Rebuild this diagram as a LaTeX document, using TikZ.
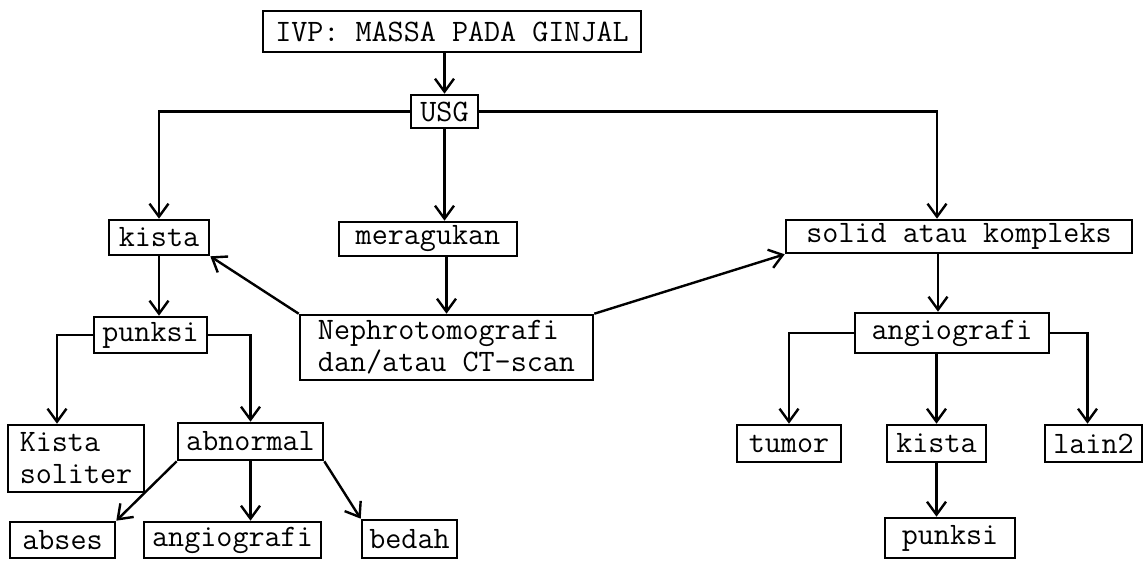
\documentclass[tikz,border=0pt]{standalone}
\usetikzlibrary{arrows.meta}
\begin{document}
\begin{tikzpicture}[x=1pt,y=-1pt,
  box/.style={draw, line width=2.6pt, inner sep=0pt, font=\ttfamily\fontsize{31.2}{32}\selectfont, anchor=center},
  arr/.style={line width=2.4pt, -{Straight Barb[length=13pt,width=19pt]}}]
\useasboundingbox[fill=white] (0,0) rectangle (1147,560);
% nodes
\node[box, minimum width=378pt, minimum height=41pt] (top) at (452,31.5) {IVP: MASSA PADA GINJAL};
\node[box, minimum width=67pt, minimum height=33pt] (usg) at (444.5,111.5) {USG};
\node[box, minimum width=100pt, minimum height=35pt] (kista1) at (159,237.5) {kista};
\node[box, minimum width=178pt, minimum height=34pt] (merag) at (428,239) {meragukan};
\node[box, minimum width=346pt, minimum height=33pt] (solid) at (959,236.5) {solid atau kompleks};
\node[box, minimum width=113pt, minimum height=36pt] (punksi1) at (150.5,335) {punksi};
\node[box, minimum width=293pt, minimum height=65pt, align=left] (nephro) at (446.5,347.5) {Nephrotomografi\\dan/atau CT-scan};
\node[box, minimum width=194pt, minimum height=40pt] (angio2) at (952,333) {angiografi};
\node[box, minimum width=136pt, minimum height=67pt, align=left] (soliter) at (76,458.5) {Kista\\soliter};
\node[box, minimum width=145pt, minimum height=37pt] (abnormal) at (250.5,441.5) {abnormal};
\node[box, minimum width=104pt, minimum height=37pt] (tumor) at (789,443.5) {tumor};
\node[box, minimum width=99pt, minimum height=37pt] (kista2) at (936.5,443.5) {kista};
\node[box, minimum width=97pt, minimum height=37pt] (lain2) at (1093.5,443.5) {lain2};
\node[box, minimum width=105pt, minimum height=36pt] (abses) at (62.5,540) {abses};
\node[box, minimum width=177pt, minimum height=36pt] (angio1) at (232.5,540) {angiografi};
\node[box, minimum width=95pt, minimum height=38pt] (bedah) at (409.5,539) {bedah};
\node[box, minimum width=130pt, minimum height=40pt] (punksi2) at (950,538) {punksi};
% helper coordinates
\coordinate (cs) at ([xshift=-22pt]solid.north);
\coordinate (ca) at ([xshift=-14pt]angio2.north);
\coordinate (cso) at ([xshift=-19pt]soliter.north);
\coordinate (cl) at ([xshift=-6pt]lain2.north);
% connectors
\draw[arr] (usg.north |- top.south) -- (usg.north);
\draw[arr] (usg.west) -| (kista1.north);
\draw[arr] (usg.east) -| (cs);
\draw[arr] (usg.south) -- (usg.south |- merag.north);
\draw[arr] (nephro.north |- merag.south) -- (nephro.north);
\draw[arr] (nephro.north west) -- (kista1.south east);
\draw[arr] (nephro.north east) -- (solid.south west);
\draw[arr] (kista1.south) -- (kista1.south |- punksi1.north);
\draw[arr] (punksi1.west) -| (cso);
\draw[arr] (punksi1.east) -| (abnormal.north);
\draw[arr] (abnormal.south west) -- (abses.north east);
\draw[arr] (abnormal.south) -- (abnormal.south |- angio1.north);
\draw[arr] (abnormal.south east) -- (bedah.north west);
\draw[arr] (ca |- solid.south) -- (ca);
\draw[arr] (angio2.west) -| (tumor.north);
\draw[arr] (angio2.east) -| (cl);
\draw[arr] (kista2.north |- angio2.south) -- (kista2.north);
\draw[arr] (kista2.south) -- (kista2.south |- punksi2.north);
\end{tikzpicture}
\end{document}
